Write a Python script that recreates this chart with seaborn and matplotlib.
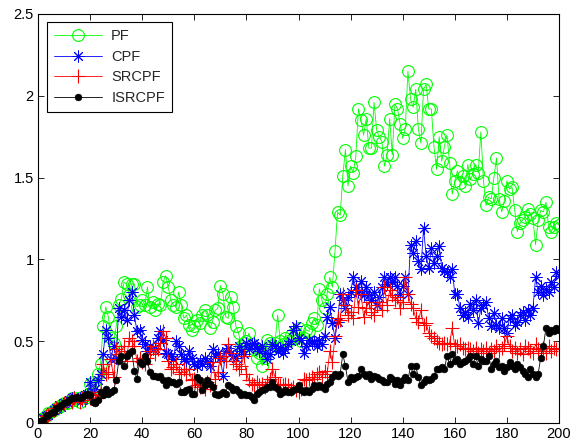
import numpy as np
import pandas as pd
import matplotlib
matplotlib.use("Agg")
import matplotlib.pyplot as plt
import seaborn as sns

steps = list(range(1, 201))

pf = [
    0.02, 0.03, 0.04, 0.06, 0.07, 0.08, 0.09, 0.10, 0.11, 0.12,
    0.12, 0.13, 0.15, 0.14, 0.15, 0.13, 0.16, 0.15, 0.17, 0.24,
    0.25, 0.22, 0.30, 0.36, 0.59, 0.71, 0.65, 0.52, 0.49, 0.59,
    0.72, 0.76, 0.86, 0.85, 0.78, 0.85, 0.85, 0.71, 0.72, 0.75,
    0.72, 0.83, 0.71, 0.74, 0.69, 0.73, 0.72, 0.86, 0.90, 0.83,
    0.75, 0.72, 0.71, 0.80, 0.72, 0.64, 0.66, 0.60, 0.57, 0.59,
    0.63, 0.61, 0.66, 0.69, 0.66, 0.58, 0.62, 0.69, 0.70, 0.84,
    0.79, 0.65, 0.64, 0.77, 0.71, 0.59, 0.55, 0.47, 0.49, 0.50,
    0.55, 0.48, 0.45, 0.40, 0.43, 0.35, 0.40, 0.51, 0.49, 0.47,
    0.49, 0.66, 0.50, 0.48, 0.52, 0.50, 0.54, 0.52, 0.55, 0.58,
    0.50, 0.52, 0.57, 0.56, 0.61, 0.64, 0.60, 0.82, 0.75, 0.70,
    0.79, 0.89, 0.83, 1.05, 1.29, 1.27, 1.51, 1.67, 1.45, 1.57,
    1.53, 1.63, 1.92, 1.85, 1.76, 1.86, 1.68, 1.68, 1.96, 1.79,
    1.75, 1.72, 1.57, 1.64, 1.86, 1.64, 1.95, 1.92, 1.83, 1.74,
    1.80, 2.15, 1.98, 1.93, 2.04, 1.80, 1.71, 2.04, 2.07, 1.92,
    1.92, 1.69, 1.55, 1.75, 1.60, 1.69, 1.76, 1.59, 1.40, 1.48,
    1.54, 1.47, 1.51, 1.45, 1.58, 1.49, 1.52, 1.58, 1.53, 1.78,
    1.48, 1.33, 1.38, 1.37, 1.50, 1.62, 1.37, 1.29, 1.36, 1.48,
    1.43, 1.44, 1.30, 1.17, 1.22, 1.24, 1.26, 1.31, 1.28, 1.25,
    1.09, 1.24, 1.30, 1.29, 1.35, 1.20, 1.17, 1.20, 1.22, 1.21,
]

cpf = [
    0.01, 0.03, 0.04, 0.05, 0.07, 0.08, 0.09, 0.11, 0.10, 0.12,
    0.13, 0.14, 0.15, 0.16, 0.14, 0.15, 0.14, 0.17, 0.18, 0.25,
    0.19, 0.21, 0.26, 0.30, 0.42, 0.57, 0.52, 0.39, 0.47, 0.40,
    0.70, 0.65, 0.69, 0.63, 0.75, 0.80, 0.66, 0.56, 0.57, 0.51,
    0.48, 0.44, 0.47, 0.45, 0.46, 0.52, 0.56, 0.51, 0.43, 0.42,
    0.41, 0.39, 0.50, 0.47, 0.42, 0.39, 0.38, 0.44, 0.40, 0.36,
    0.35, 0.38, 0.36, 0.40, 0.38, 0.35, 0.45, 0.41, 0.43, 0.40,
    0.29, 0.44, 0.46, 0.43, 0.41, 0.40, 0.47, 0.44, 0.42, 0.49,
    0.45, 0.48, 0.49, 0.46, 0.44, 0.47, 0.43, 0.39, 0.42, 0.48,
    0.47, 0.44, 0.46, 0.43, 0.45, 0.48, 0.50, 0.57, 0.59, 0.52,
    0.51, 0.43, 0.47, 0.51, 0.49, 0.50, 0.47, 0.51, 0.48, 0.53,
    0.65, 0.71, 0.61, 0.52, 0.62, 0.79, 0.75, 0.70, 0.77, 0.80,
    0.89, 0.83, 0.80, 0.87, 0.78, 0.83, 0.78, 0.75, 0.80, 0.72,
    0.77, 0.83, 0.89, 0.85, 0.89, 0.86, 0.89, 0.84, 0.79, 0.84,
    0.89, 0.79, 1.09, 1.04, 1.11, 0.99, 0.94, 1.19, 1.02, 0.95,
    1.07, 0.98, 1.02, 1.08, 0.95, 0.93, 0.92, 0.89, 0.94, 0.79,
    0.79, 0.70, 0.66, 0.68, 0.65, 0.73, 0.69, 0.75, 0.61, 0.70,
    0.72, 0.74, 0.64, 0.59, 0.67, 0.60, 0.58, 0.64, 0.58, 0.55,
    0.64, 0.66, 0.60, 0.62, 0.66, 0.68, 0.63, 0.69, 0.66, 0.70,
    0.89, 0.80, 0.84, 0.78, 0.82, 0.80, 0.86, 0.83, 0.92, 0.90,
]

srcpf = [
    0.01, 0.02, 0.04, 0.05, 0.06, 0.08, 0.09, 0.10, 0.11, 0.12,
    0.13, 0.14, 0.13, 0.15, 0.14, 0.13, 0.15, 0.14, 0.16, 0.15,
    0.19, 0.17, 0.15, 0.18, 0.36, 0.30, 0.31, 0.39, 0.28, 0.45,
    0.42, 0.44, 0.47, 0.38, 0.52, 0.50, 0.47, 0.38, 0.40, 0.37,
    0.36, 0.40, 0.44, 0.47, 0.42, 0.45, 0.49, 0.56, 0.52, 0.38,
    0.33, 0.34, 0.36, 0.31, 0.30, 0.33, 0.30, 0.33, 0.26, 0.27,
    0.23, 0.22, 0.24, 0.21, 0.25, 0.23, 0.37, 0.27, 0.31, 0.40,
    0.41, 0.38, 0.48, 0.43, 0.38, 0.36, 0.33, 0.35, 0.41, 0.30,
    0.26, 0.24, 0.23, 0.25, 0.23, 0.24, 0.22, 0.25, 0.27, 0.33,
    0.28, 0.24, 0.23, 0.23, 0.24, 0.23, 0.21, 0.22, 0.20, 0.19,
    0.21, 0.27, 0.26, 0.27, 0.28, 0.27, 0.30, 0.31, 0.28, 0.32,
    0.30, 0.44, 0.37, 0.53, 0.64, 0.63, 0.79, 0.72, 0.66, 0.68,
    0.64, 0.81, 0.71, 0.79, 0.65, 0.70, 0.74, 0.68, 0.66, 0.72,
    0.74, 0.69, 0.83, 0.72, 0.81, 0.78, 0.75, 0.77, 0.70, 0.74,
    0.89, 0.79, 0.73, 0.70, 0.64, 0.62, 0.69, 0.60, 0.61, 0.55,
    0.53, 0.52, 0.50, 0.49, 0.48, 0.49, 0.48, 0.49, 0.58, 0.47,
    0.47, 0.48, 0.46, 0.45, 0.46, 0.45, 0.44, 0.46, 0.43, 0.45,
    0.44, 0.46, 0.43, 0.45, 0.44, 0.47, 0.44, 0.46, 0.48, 0.53,
    0.47, 0.44, 0.46, 0.43, 0.45, 0.42, 0.47, 0.46, 0.44, 0.43,
    0.48, 0.45, 0.44, 0.46, 0.43, 0.47, 0.44, 0.46, 0.45, 0.45,
]

isrcpf = [
    0.01, 0.02, 0.04, 0.05, 0.06, 0.07, 0.09, 0.10, 0.11, 0.12,
    0.13, 0.14, 0.15, 0.15, 0.16, 0.15, 0.16, 0.17, 0.18, 0.17,
    0.13, 0.12, 0.14, 0.19, 0.17, 0.21, 0.18, 0.19, 0.20, 0.26,
    0.38, 0.41, 0.35, 0.41, 0.43, 0.44, 0.32, 0.27, 0.37, 0.36,
    0.41, 0.38, 0.31, 0.29, 0.29, 0.28, 0.29, 0.26, 0.23, 0.26,
    0.25, 0.25, 0.24, 0.25, 0.19, 0.19, 0.20, 0.21, 0.18, 0.18,
    0.28, 0.26, 0.20, 0.23, 0.26, 0.24, 0.22, 0.18, 0.17, 0.18,
    0.19, 0.18, 0.23, 0.22, 0.20, 0.21, 0.19, 0.17, 0.18, 0.17,
    0.17, 0.16, 0.14, 0.18, 0.19, 0.20, 0.21, 0.22, 0.22, 0.25,
    0.22, 0.21, 0.18, 0.19, 0.20, 0.19, 0.19, 0.20, 0.21, 0.23,
    0.20, 0.19, 0.20, 0.19, 0.21, 0.23, 0.22, 0.23, 0.22, 0.21,
    0.24, 0.25, 0.28, 0.30, 0.29, 0.30, 0.42, 0.35, 0.25, 0.28,
    0.27, 0.28, 0.29, 0.33, 0.30, 0.29, 0.30, 0.27, 0.29, 0.28,
    0.27, 0.26, 0.25, 0.25, 0.28, 0.27, 0.24, 0.26, 0.23, 0.26,
    0.28, 0.26, 0.35, 0.30, 0.35, 0.28, 0.23, 0.25, 0.27, 0.26,
    0.27, 0.29, 0.33, 0.33, 0.34, 0.33, 0.41, 0.36, 0.42, 0.38,
    0.39, 0.36, 0.37, 0.38, 0.39, 0.41, 0.36, 0.41, 0.35, 0.39,
    0.38, 0.38, 0.41, 0.33, 0.36, 0.38, 0.34, 0.35, 0.32, 0.34,
    0.37, 0.35, 0.33, 0.36, 0.34, 0.32, 0.30, 0.28, 0.33, 0.30,
    0.28, 0.30, 0.40, 0.47, 0.58, 0.55, 0.57, 0.56, 0.58, 0.57,
]

series_names = ["PF", "CPF", "SRCPF", "ISRCPF"]
x_ticks = [0, 20, 40, 60, 80, 100, 120, 140, 160, 180, 200]
y_ticks = [0, 0.5, 1, 1.5, 2, 2.5]
y_tick_labels = ["0", "0.5", "1", "1.5", "2", "2.5"]

sns.set_theme(style="white")
plt.rcParams["font.family"] = ["Liberation Sans", "DejaVu Sans"]
plt.rcParams["xtick.direction"] = "in"
plt.rcParams["ytick.direction"] = "in"

fig = plt.figure(figsize=(5.73, 4.47), dpi=100)
ax = fig.add_axes([38 / 573, 24 / 447, 521 / 573, 409 / 447])

styles = [
    dict(color=(0, 1, 0), marker="o", markersize=8.5, markerfacecolor="none",
         markeredgecolor=(0, 1, 0), markeredgewidth=0.8),
    dict(color=(0, 0, 1), marker=(8, 2, 0), markersize=8.5, markeredgecolor=(0, 0, 1),
         markeredgewidth=0.7),
    dict(color=(1, 0, 0), marker="+", markersize=10, markeredgecolor=(1, 0, 0),
         markeredgewidth=0.8),
    dict(color="black", marker="o", markersize=4.8, markerfacecolor="black",
         markeredgecolor="black", markeredgewidth=0.5),
]

for name, vals, st in zip(series_names, [pf, cpf, srcpf, isrcpf], styles):
    df = pd.DataFrame({"step": steps, "value": vals})
    sns.lineplot(data=df, x="step", y="value", ax=ax, estimator=None,
                 linewidth=0.6, label=name, **st)

ax.set_xlim(0, 200)
ax.set_ylim(0, 2.5)
ax.set_xticks(x_ticks)
ax.set_xticklabels([str(t) for t in x_ticks])
ax.set_yticks(y_ticks)
ax.set_yticklabels(y_tick_labels)
ax.set_xlabel("")
ax.set_ylabel("")
ax.tick_params(axis="both", which="both", direction="in", length=4, width=0.6,
               labelsize=10.5, colors="black", top=True, right=True,
               bottom=True, left=True, pad=3)
for sp in ax.spines.values():
    sp.set_visible(True)
    sp.set_color("black")
    sp.set_linewidth(0.8)

leg = ax.legend(loc="upper left", bbox_to_anchor=(9 / 521, 1 - 8 / 409),
                frameon=True, fancybox=False, edgecolor="black", framealpha=1,
                fontsize=10.5, handlelength=3.3, borderpad=0.5, labelspacing=0.45,
                handletextpad=0.6, borderaxespad=0)
leg.get_frame().set_linewidth(0.8)

fig.savefig("out.png", dpi=100)
